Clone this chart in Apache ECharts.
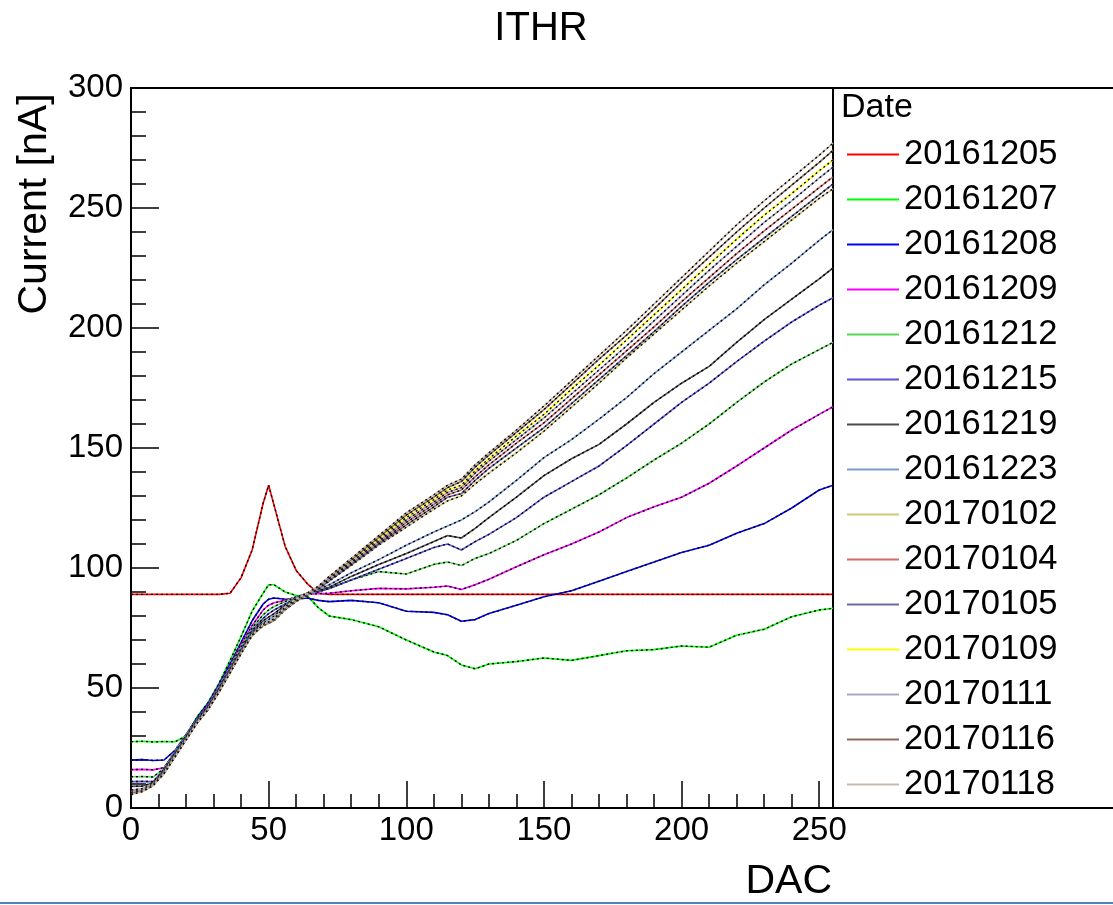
<!DOCTYPE html>
<html><head><meta charset="utf-8">
<script src="https://cdn.jsdelivr.net/npm/echarts@6/dist/echarts.min.js"></script>
<style>html,body{margin:0;padding:0;background:#fff}#c{width:1113px;height:905px}</style>
</head><body><div id="c"></div>
<script>
// DAC sample points
const dac = [0,4,8,12,16,20,24,28,32,36,40,44,48,50,52,56,60,64,68,72,80,90,100,110,115,120,125,130,140,150,160,170,180,190,200,210,220,230,240,250,255];
const dates = ["20161205","20161207","20161208","20161209","20161212","20161215","20161219","20161223","20170102","20170104","20170105","20170109","20170111","20170116","20170118"];
const lineColors = ["#ff0000","#00ff00","#0000ff","#ff00ff","#59d454","#5954d8","#4d4d4d","#7d99d1","#d4c878","#d9696b","#6c6c9c","#ffff00","#a7a7c9","#8d6b5c","#c9b9ab"];
const xTicks = [0,50,100,150,200,250];
const yTicks = [0,50,100,150,200,250,300];

const s20161205 = [89,89,89,89,89,89,89,89,89,89.5,96,107.5,127,134.5,126,109,99,93.5,89.5,89,89,89,89,89,89,89,89,89,89,89,89,89,89,89,89,89,89,89,89,89,89];
const s20161207 = [27.6,27.8,27.5,27.7,27.6,30,38,44,52,61.5,71.5,82,89.5,93,93,90,88.5,88.5,83.5,80,78.5,75.5,70,65,63.5,59.6,58,60,61,62.5,61.5,63.5,65.5,66,67.5,67,72,74.5,79.7,82.5,83.2];
const s20161208 = [20,20.2,19.8,20,24,30.5,37.5,43.5,51.5,60,69,78,85,87,87.5,87,87,87.5,86.5,86,86.5,85.5,82,81.5,80.5,77.8,78.5,81,84.5,88,90.5,94.5,98.5,102.5,106.5,109.5,114.5,118.5,125,132.5,134.5];
const s20161209 = [16,16.1,15.9,16.8,23.5,30.5,37,43,51,59,68,76,82.5,84.5,85.5,86.5,88,89,89.3,89.5,90.5,91.5,91.3,92,92.5,91,93,95.3,100.5,105.5,110,115,121,125.5,129.5,135.3,142.5,150,157.5,164,167.2];
const s20161212 = [13,13.1,12.9,16.5,23.5,30.5,37,42.5,50.5,58.5,67,75,80.5,82.5,84,86,88,89.5,90,91.5,95,98.5,97.5,101.5,102.5,101,104,106,111.5,118.5,124.5,130.5,137.5,145,152,160,169,177.5,185,191,194];
const s20161215 = [11,11.1,11,16,23,30,37,42.5,50,58,66,74,79,81,82.5,85,87.5,89.5,90,91.5,95,99.5,104,108.5,110,107.5,111,114,121,129.5,136,142.5,151,160,169,177,186,194.5,202.5,209.5,212.6];
const s20161219 = [9,9.1,10.5,15.5,22.5,29.5,36.5,42,49.5,57.5,65.5,73,78,79.5,81,84.5,87,89.5,90.5,92,96.5,101.5,106,111,113.5,112.5,116.5,121,129.5,138.5,145.5,151.5,160,169,177,184,194,203.5,212,220.5,225];
const s20161223 = [7.5,8,10,15,22,29,36,41.5,49,57,65,72.5,77,78.5,80,84,87,89.5,91,93,98,103.5,109.5,115,117.5,120,123.5,127.5,136.5,146,153.5,162,171,181,190,199,208,218,227,236.5,241];
const s20170102 = [7,7.5,9.8,14.5,21.5,28.5,35.5,41,48.5,56.5,64.5,72,76,77,78,82.5,86,88.5,91,94.5,101,109.5,117,124.5,128,130,135,139.5,148,157,167,177,187.5,197.5,207.5,217.5,227,236,245,254,258];
const s20170104 = [7,7.2,9.6,14.6,21.6,28.6,35.6,41.2,48.6,56.6,64.6,72,76.2,77.2,78.5,83,86.5,89,91.5,95,101.8,110.5,119,126.5,130.5,132.5,138,143,152,160.5,170.5,180.5,190.5,200.5,211,221,231,240.5,249.5,258.5,263];
const s20170105 = [6.5,7.1,9.5,14.5,21.5,28.5,35.5,41,48.5,56.5,64.5,72,76,77,78.3,82.8,86.3,88.8,91.2,94.8,101.4,110,118,125.5,129.5,131,136.5,141.5,150,158.5,168.5,178.5,188.5,198.5,209,219,228.5,237.5,246.5,255.5,260];
const s20170109 = [6,6.8,9.3,14.4,21.4,28.4,35.4,41,48.4,56.4,64.4,71.8,76,77,78.6,83.2,86.7,89.2,92,95.8,102.8,112,121,128.5,132.5,134.5,140.5,145.5,155,164,174.5,184.5,195,205.5,216,226.5,237,247,256,265.5,270];
const s20170111 = [6.5,7,9.5,14.5,21.5,28.5,35.5,41,48.5,56.5,64.5,72,76.1,77.1,78.5,83,86.6,89.1,91.8,95.5,102.3,111.2,120,127.5,131.5,133.5,139.5,144.5,153.5,162.5,172.5,182.5,192.5,203,213.5,224,234,244,253,262.5,267];
const s20170116 = [6,6.9,9.4,14.4,21.4,28.4,35.4,41,48.4,56.4,64.4,72,76.3,77.3,78.8,83.5,87,89.3,92.2,96.2,103.4,112.8,122,129.5,133.5,136,142,147,156.5,166,176.5,187,197,208,219,229.5,240,250,259.5,269,274];
const s20170118 = [5.5,6.8,9.3,14.3,21.3,28.3,35.3,41,48.3,56.3,64.3,72,76.5,77.5,79,83.8,87.2,89.5,92.4,96.5,104,113.5,123,130.5,134.5,137,143,148,157.5,167.5,178,188.5,199,210,221,232,243,253,262.5,272,277];

const allValues = [s20161205,s20161207,s20161208,s20161209,s20161212,s20161215,s20161219,s20161223,s20170102,s20170104,s20170105,s20170109,s20170111,s20170116,s20170118];

const FONT = "'Liberation Sans', Arial, sans-serif";
const chart = echarts.init(document.getElementById('c'), null, {renderer:'canvas'});

const series = [];
dates.forEach((d, i) => {
  const data = dac.map((x, j) => [x, allValues[i][j]]);
  series.push({
    name: d, type: 'line', data, symbol: 'none', xAxisIndex: 0, yAxisIndex: 0,
    lineStyle: {color: lineColors[i], width: 1.6}, itemStyle: {color: lineColors[i]},
    z: 2 + i * 2
  });
  series.push({
    name: '_' + d, type: 'line', data, symbol: 'none', xAxisIndex: 0, yAxisIndex: 0,
    lineStyle: {color: '#000', width: 1.4, type: [2, 3]}, itemStyle: {color: '#000'},
    silent: true, z: 3 + i * 2
  });
});

const axisCommon = {
  axisLine: {show: true, lineStyle: {color: '#000', width: 2}},
  splitLine: {show: false}
};

chart.setOption({
  animation: false,
  backgroundColor: '#fff',
  grid: {left: 131, right: 280, top: 88, bottom: 97, show: true, borderColor: '#000', borderWidth: 2},
  xAxis: [
    Object.assign({}, axisCommon, {
      type: 'value', min: 0, max: 255, interval: 50, position: 'bottom',
      axisTick: {show: true, inside: true, length: 27, lineStyle: {color: '#000', width: 1.5}},
      axisLabel: {show: true, fontSize: 33, color: '#000', fontFamily: FONT, margin: 6, showMaxLabel: false,
        formatter: v => (xTicks.indexOf(v) >= 0 ? String(v) : '')}
    }),
    Object.assign({}, axisCommon, {
      type: 'value', min: 0, max: 255, interval: 10, position: 'bottom',
      axisTick: {show: true, inside: true, length: 14, lineStyle: {color: '#000', width: 1.5}},
      axisLabel: {show: false}
    })
  ],
  yAxis: [
    Object.assign({}, axisCommon, {
      type: 'value', min: 0, max: 300, interval: 50,
      axisTick: {show: true, inside: true, length: 28, lineStyle: {color: '#000', width: 1.5}},
      axisLabel: {show: true, fontSize: 33, color: '#000', fontFamily: FONT, margin: 8,
        formatter: v => (yTicks.indexOf(v) >= 0 ? String(v) : '')}
    }),
    Object.assign({}, axisCommon, {
      type: 'value', min: 0, max: 300, interval: 10, position: 'left',
      axisTick: {show: true, inside: true, length: 15, lineStyle: {color: '#000', width: 1.5}},
      axisLabel: {show: false}
    })
  ],
  legend: {
    orient: 'vertical', left: 847, top: 137, padding: 0, itemWidth: 52, itemHeight: 2, itemGap: 10,
    icon: 'rect',
    data: dates,
    textStyle: {fontSize: 34.5, lineHeight: 33, color: '#000', fontFamily: FONT},
    selectedMode: false
  },
  graphic: [
    {type: 'text', x: 541, y: 29, style: {text: 'ITHR', font: '40px ' + FONT, fill: '#000', textAlign: 'center', textVerticalAlign: 'middle'}},
    {type: 'text', x: 35, y: 204, rotation: Math.PI / 2, style: {text: 'Current [nA]', font: '41px ' + FONT, fill: '#000', textAlign: 'center', textVerticalAlign: 'middle'}},
    {type: 'text', x: 832, y: 882, style: {text: 'DAC', font: '41px ' + FONT, fill: '#000', textAlign: 'right', textVerticalAlign: 'middle'}},
    {type: 'rect', shape: {x: 833, y: 88, width: 300, height: 720}, style: {fill: 'none', stroke: '#000', lineWidth: 2}},
    {type: 'text', x: 841, y: 108, style: {text: 'Date', font: '34px ' + FONT, fill: '#000', textAlign: 'left', textVerticalAlign: 'middle'}},
    {type: 'rect', shape: {x: 0, y: 902, width: 1113, height: 2}, style: {fill: '#4f81bd'}}
  ],
  series
});
</script></body></html>
